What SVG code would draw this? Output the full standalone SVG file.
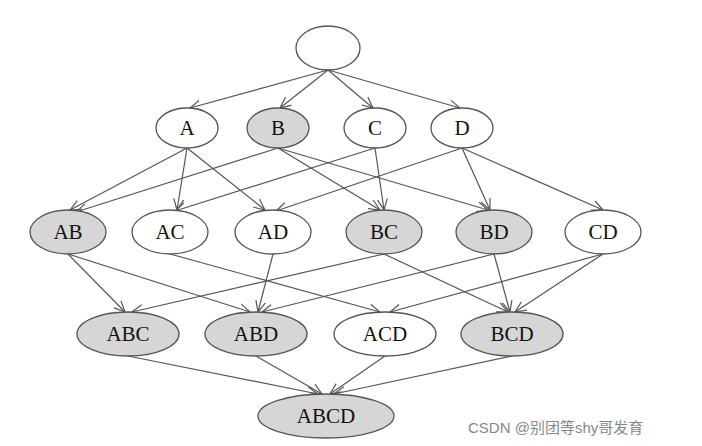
<svg xmlns="http://www.w3.org/2000/svg" width="702" height="446" viewBox="0 0 702 446">
<style>
.n ellipse{stroke:#555;stroke-width:1.3;fill:#fff}
.g ellipse{fill:#d6d6d6}
.n text{font-family:"Liberation Serif",serif;font-size:21px;text-anchor:middle;dominant-baseline:central;fill:#111}
#edges line{stroke:#555;stroke-width:1.2;marker-end:url(#a)}
</style>
<defs><marker id="a" viewBox="0 0 12 12" refX="11" refY="6" markerWidth="12" markerHeight="12" markerUnits="userSpaceOnUse" orient="auto"><path d="M0,1 L11,6 L0,11" fill="none" stroke="#555" stroke-width="1.2"/></marker></defs>
<rect width="702" height="446" fill="#fff"/>
<g id="edges">
<line x1="328" y1="70" x2="190" y2="108"/><line x1="328" y1="70" x2="280" y2="108"/><line x1="328" y1="70" x2="373" y2="108"/><line x1="328" y1="70" x2="460" y2="108"/>
<line x1="187" y1="148" x2="70" y2="210"/><line x1="187" y1="148" x2="177" y2="210"/><line x1="187" y1="148" x2="265" y2="210"/>
<line x1="278" y1="148" x2="76" y2="212"/><line x1="278" y1="148" x2="380" y2="210"/><line x1="278" y1="148" x2="488" y2="210"/>
<line x1="375" y1="148" x2="175" y2="211"/><line x1="375" y1="148" x2="384" y2="210"/>
<line x1="462" y1="148" x2="276" y2="211"/><line x1="462" y1="148" x2="490" y2="210"/><line x1="462" y1="148" x2="603" y2="210"/>
<line x1="68" y1="254" x2="125" y2="312"/><line x1="68" y1="254" x2="250" y2="312"/>
<line x1="170" y1="254" x2="380" y2="312"/>
<line x1="273" y1="254" x2="258" y2="312"/>
<line x1="384" y1="254" x2="132" y2="312"/><line x1="384" y1="254" x2="508" y2="312"/>
<line x1="494" y1="254" x2="262" y2="312"/><line x1="494" y1="254" x2="510" y2="312"/>
<line x1="603" y1="254" x2="390" y2="312"/><line x1="603" y1="254" x2="515" y2="312"/>
<line x1="128" y1="356" x2="318" y2="394"/><line x1="256" y1="356" x2="322" y2="394"/><line x1="385" y1="356" x2="330" y2="394"/><line x1="512" y1="356" x2="334" y2="394"/>
</g>
<g id="top" class="n"><ellipse cx="328" cy="48" rx="32" ry="22"/></g>
<g id="A" class="n"><ellipse cx="187" cy="128" rx="31" ry="20"/><text x="187" y="128">A</text></g>
<g id="B" class="n g"><ellipse cx="278" cy="128" rx="31" ry="20"/><text x="278" y="128">B</text></g>
<g id="C" class="n"><ellipse cx="375" cy="128" rx="31" ry="20"/><text x="375" y="128">C</text></g>
<g id="D" class="n"><ellipse cx="462" cy="128" rx="31" ry="20"/><text x="462" y="128">D</text></g>
<g id="AB" class="n g"><ellipse cx="68" cy="232" rx="38" ry="22"/><text x="68" y="232">AB</text></g>
<g id="AC" class="n"><ellipse cx="170" cy="232" rx="38" ry="22"/><text x="170" y="232">AC</text></g>
<g id="AD" class="n"><ellipse cx="273" cy="232" rx="38" ry="22"/><text x="273" y="232">AD</text></g>
<g id="BC" class="n g"><ellipse cx="384" cy="232" rx="38" ry="22"/><text x="384" y="232">BC</text></g>
<g id="BD" class="n g"><ellipse cx="494" cy="232" rx="38" ry="22"/><text x="494" y="232">BD</text></g>
<g id="CD" class="n"><ellipse cx="603" cy="232" rx="38" ry="22"/><text x="603" y="232">CD</text></g>
<g id="ABC" class="n g"><ellipse cx="128" cy="334" rx="51" ry="22"/><text x="128" y="334">ABC</text></g>
<g id="ABD" class="n g"><ellipse cx="256" cy="334" rx="51" ry="22"/><text x="256" y="334">ABD</text></g>
<g id="ACD" class="n"><ellipse cx="385" cy="334" rx="51" ry="22"/><text x="385" y="334">ACD</text></g>
<g id="BCD" class="n g"><ellipse cx="512" cy="334" rx="51" ry="22"/><text x="512" y="334">BCD</text></g>
<g id="ABCD" class="n g"><ellipse cx="326" cy="416" rx="68" ry="22"/><text x="326" y="416">ABCD</text></g>
<text x="468" y="433" font-family="'Liberation Sans','Noto Sans CJK SC',sans-serif" font-size="15" fill="#888">CSDN @别团等shy哥发育</text>
</svg>
